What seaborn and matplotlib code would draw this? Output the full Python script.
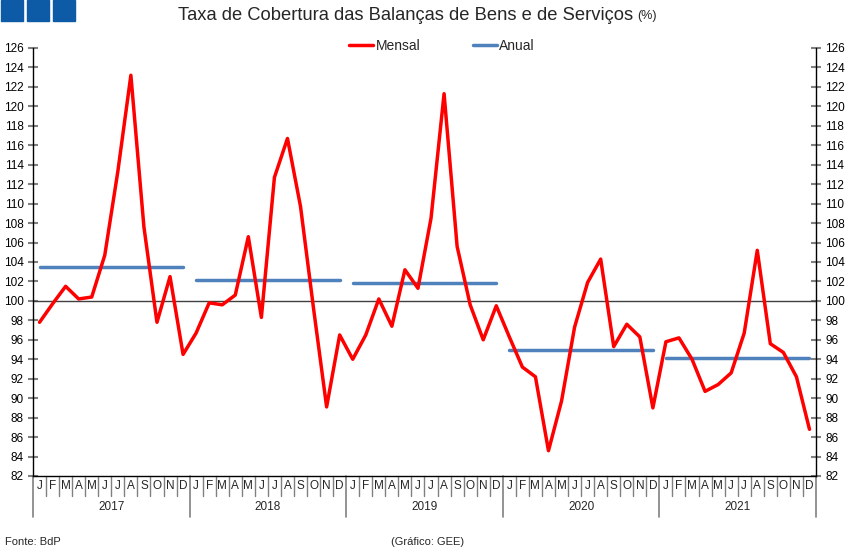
import numpy as np
import pandas as pd
import matplotlib
matplotlib.use('Agg')
import matplotlib.pyplot as plt
import matplotlib.transforms as mtransforms
from matplotlib.patches import Rectangle
import seaborn as sns

# Data ------------------------------------------------------------------------

years = ['2017', '2018', '2019', '2020', '2021']
month_letters = ['J', 'F', 'M', 'A', 'M', 'J', 'J', 'A', 'S', 'O', 'N', 'D']

mensal_2017 = [97.8, 99.7, 101.5, 100.2, 100.4, 104.7, 113.3, 123.2, 107.6, 97.8, 102.5, 94.5]
mensal_2018 = [96.7, 99.8, 99.6, 100.6, 106.6, 98.3, 112.7, 116.7, 109.7, 99.2, 89.1, 96.5]
mensal_2019 = [94.0, 96.5, 100.2, 97.4, 103.2, 101.3, 108.5, 121.3, 105.6, 99.6, 96.0, 99.5]
mensal_2020 = [96.3, 93.2, 92.2, 84.6, 89.7, 97.3, 101.9, 104.3, 95.3, 97.6, 96.3, 89.0]
mensal_2021 = [95.8, 96.2, 94.0, 90.7, 91.4, 92.6, 96.7, 105.2, 95.6, 94.7, 92.2, 86.8]

anual = [103.5, 102.1, 101.8, 95.0, 94.1]

mensal = mensal_2017 + mensal_2018 + mensal_2019 + mensal_2020 + mensal_2021

# Frames for seaborn ----------------------------------------------------------

df_m = pd.DataFrame({'pos': np.arange(len(mensal)), 'valor': mensal})

rows = []
for i, (yr, v) in enumerate(zip(years, anual)):
    rows.append({'ano': yr, 'pos': 12 * i, 'valor': v})
    rows.append({'ano': yr, 'pos': 12 * i + 11, 'valor': v})
df_a = pd.DataFrame(rows)

# Plot ------------------------------------------------------------------------

sns.set_style('white')
plt.rcParams['font.family'] = ['Liberation Sans', 'DejaVu Sans']

W, H = 850, 554
fig = plt.figure(figsize=(W / 100, H / 100), dpi=100)
ax = fig.add_axes([33 / W, (H - 476) / H, 783 / W, 428 / H])

red = '#ff0000'
blue = '#4f81bd'

ax.axhline(100, color='#404040', lw=1, zorder=1)

sns.lineplot(data=df_a, x='pos', y='valor', units='ano', estimator=None,
             color=blue, lw=2.5, ax=ax, zorder=2)
sns.lineplot(data=df_m, x='pos', y='valor', color=red, lw=2.5, ax=ax,
             zorder=3)

ax.set_xlim(-0.5, len(mensal) - 0.5)
ax.set_ylim(82, 126)
ax.set_yticks(np.arange(82, 127, 2))
ax.set_xticks([])
ax.set_xlabel('')
ax.set_ylabel('')

ax.spines['top'].set_visible(False)
for s in ['left', 'right', 'bottom']:
    ax.spines[s].set_color('black')
    ax.spines[s].set_linewidth(1)

ax.tick_params(axis='y', which='both', left=True, right=True,
               labelleft=True, labelright=True, direction='inout',
               length=7, width=1.5, color='#808080', labelsize=8.5, pad=3)
for lbl in ax.get_yticklabels():
    lbl.set_color('black')

# Month / year category axis
trans = mtransforms.blended_transform_factory(ax.transData, ax.transAxes)
px = 1 / 428
n = len(mensal)
for i in range(n + 1):
    if i % 12 == 0:
        ax.plot([i - 0.5, i - 0.5], [0, -41 * px], transform=trans,
                color='#808080', lw=1.2, clip_on=False)
    else:
        ax.plot([i - 0.5, i - 0.5], [0, -20 * px], transform=trans,
                color='#808080', lw=1, clip_on=False)
for i in range(n):
    ax.text(i, -10 * px, month_letters[i % 12], transform=trans,
            ha='center', va='center', fontsize=8.5)
for j, yr in enumerate(years):
    ax.text(12 * j + 5.5, -31 * px, yr, transform=trans,
            ha='center', va='center', fontsize=8.5)

# Legend
ax.plot([], [], color=red, lw=2.5, label='Mensal')
ax.plot([], [], color=blue, lw=2.5, label='Anual')
handles, labels = ax.get_legend_handles_labels()
leg = ax.legend(handles[-2:], labels[-2:], loc='center',
                bbox_to_anchor=((442 - 33) / 783, 1 + 2 / 428), ncol=2,
                frameon=False, fontsize=10, handlelength=1.7,
                handletextpad=0.2, columnspacing=3.8)

# Title
fig.text(406 / W, 1 - 15 / H, 'Taxa de Cobertura das Balanças de Bens e de Serviços',
         ha='center', va='center', fontsize=13.2)
fig.text(637 / W, 1 - 16 / H, '(%)', ha='left', va='center', fontsize=9)

# Blue squares at top left
for x0 in [1, 27, 53]:
    fig.patches.append(Rectangle((x0 / W, 1 - 21 / H), 22 / W, 21 / H,
                                 transform=fig.transFigure,
                                 color='#0d5aa7', zorder=5))

# Footer
fig.text(5 / W, 1 - 542 / H, 'Fonte: BdP', ha='left', va='center', fontsize=8)
fig.text(428 / W, 1 - 542 / H, '(Gráfico: GEE)', ha='center', va='center',
         fontsize=8)

fig.savefig('out.png', dpi=100)
